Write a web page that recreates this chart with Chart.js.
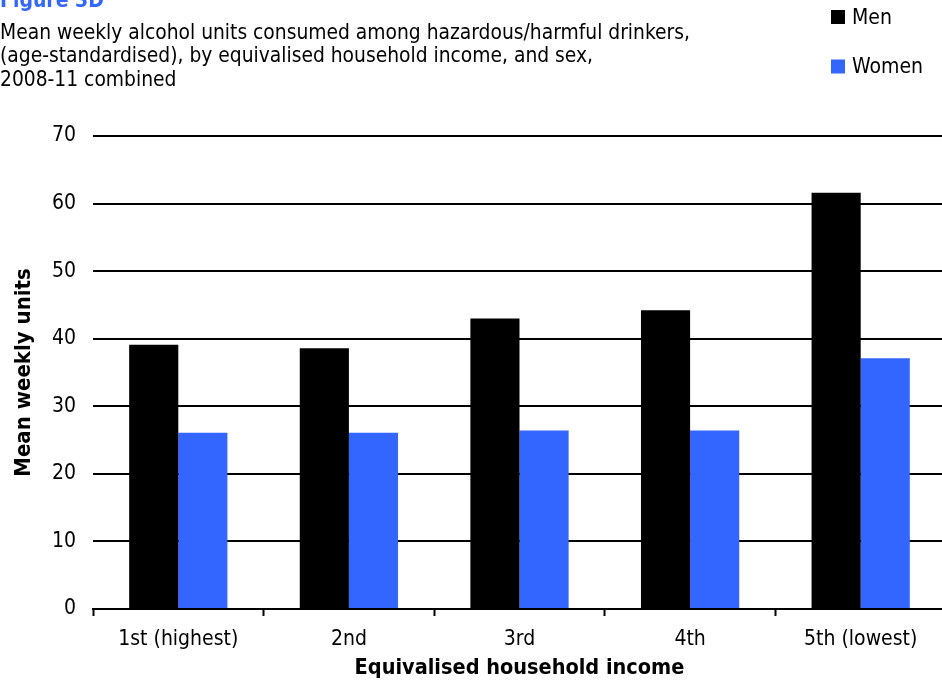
<!DOCTYPE html>
<html>
<head>
<meta charset="utf-8">
<script src="https://cdn.jsdelivr.net/npm/chart.js@4/dist/chart.umd.min.js"></script>
<style>
  html, body { margin: 0; padding: 0; background: #fff; overflow: hidden; }
  #wrap { position: relative; width: 946px; height: 681px; }
</style>
</head>
<body>
<div id="wrap"><canvas id="chart"></canvas></div>
<script>
// Income quintiles (equivalised household income)
const categories = ['1st (highest)', '2nd', '3rd', '4th', '5th (lowest)'];
// Mean weekly alcohol units, hazardous/harmful drinkers, age-standardised
const menUnits = [39.1, 38.6, 43.0, 44.2, 61.6];
const womenUnits = [26.1, 26.1, 26.4, 26.4, 37.1];
const seriesNames = ['Men', 'Women'];
const yTicks = [0, 10, 20, 30, 40, 50, 60, 70];

const figureLabel = 'Figure 3D';
const titleLines = [
  'Mean weekly alcohol units consumed among hazardous/harmful drinkers,',
  '(age-standardised), by equivalised household income, and sex,',
  '2008-11 combined'
];
const xTitle = 'Equivalised household income';
const yTitle = 'Mean weekly units';

const FONT = 'Tahoma, "DejaVu Sans Condensed", "DejaVu Sans", sans-serif';
const MEN_COLOR = '#000000';
const WOMEN_COLOR = '#3366ff';

// Heading text and vertical legend painted on the canvas
const headingAndLegend = {
  id: 'headingAndLegend',
  afterDraw(chart) {
    const ctx = chart.ctx;
    ctx.save();
    ctx.textAlign = 'left';
    ctx.textBaseline = 'middle';
    ctx.fillStyle = WOMEN_COLOR;
    ctx.font = 'bold 21px ' + FONT;
    ctx.fillText(figureLabel, 0, 2);
    ctx.fillStyle = '#000';
    ctx.font = '20.8px ' + FONT;
    titleLines.forEach((line, i) => ctx.fillText(line, 0, 33.5 + i * 23.5));

    chart.data.datasets.forEach((ds, i) => {
      const cy = 17 + i * 49.5;
      ctx.fillStyle = ds.backgroundColor;
      ctx.fillRect(831, cy - 7, 14, 14);
      ctx.fillStyle = '#000';
      ctx.font = '21px ' + FONT;
      ctx.fillText(ds.label, 852, cy + 1.5);
    });
    ctx.restore();
  }
};

new Chart(document.getElementById('chart'), {
  type: 'bar',
  data: {
    labels: categories,
    datasets: [
      { label: seriesNames[0], data: menUnits, backgroundColor: MEN_COLOR },
      { label: seriesNames[1], data: womenUnits, backgroundColor: WOMEN_COLOR }
    ]
  },
  options: {
    responsive: true,
    maintainAspectRatio: false,
    animation: false,
    layout: { padding: { top: 136, right: 0, bottom: 0, left: 0 } },
    datasets: { bar: { categoryPercentage: 0.576, barPercentage: 1.0 } },
    plugins: {
      legend: { display: false },
      tooltip: { enabled: false }
    },
    scales: {
      x: {
        offset: true,
        afterFit(scale) { scale.height = 72; },
        grid: {
          offset: true,
          drawOnChartArea: false,
          drawTicks: true,
          tickLength: 7,
          tickWidth: 2,
          tickColor: '#000'
        },
        border: { display: true, color: '#000', width: 2 },
        ticks: {
          color: '#000',
          font: { family: FONT, size: 21 },
          padding: 11
        },
        title: {
          display: true,
          text: xTitle,
          color: '#000',
          font: { family: FONT, size: 21.5, weight: 'bold' },
          padding: { top: 4, bottom: 0 }
        }
      },
      y: {
        min: 0,
        max: 70,
        afterBuildTicks(scale) {
          scale.ticks = yTicks.map(v => ({ value: v }));
        },
        afterFit(scale) { scale.width = 93; },
        grid: {
          color: '#000',
          lineWidth: 2,
          drawTicks: false
        },
        border: { display: false },
        ticks: {
          color: '#000',
          font: { family: FONT, size: 21 },
          padding: 17
        },
        title: {
          display: true,
          text: yTitle,
          color: '#000',
          font: { family: FONT, size: 22, weight: 'bold' },
          padding: { top: 11, bottom: 0 }
        }
      }
    }
  },
  plugins: [headingAndLegend]
});
</script>
</body>
</html>
